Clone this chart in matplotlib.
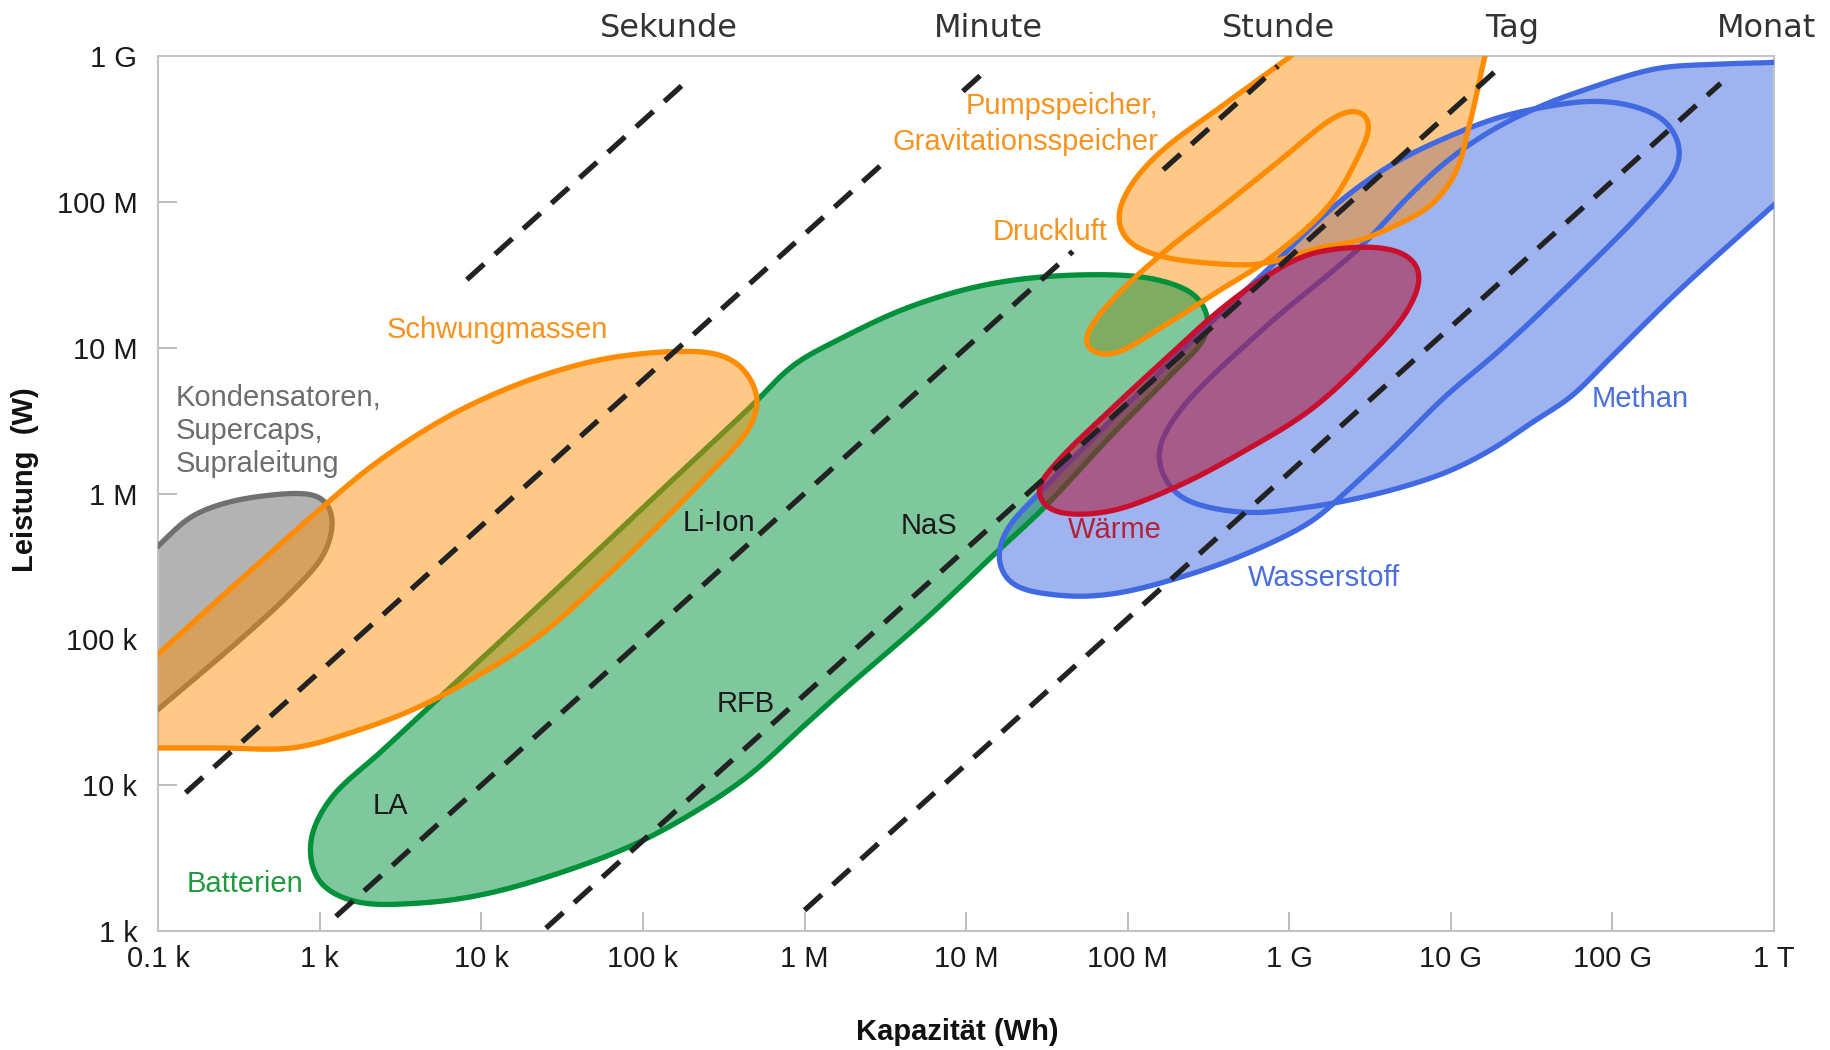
import numpy as np
import matplotlib
matplotlib.use("Agg")
import matplotlib.pyplot as plt
from matplotlib.path import Path
from matplotlib.patches import PathPatch

plt.rcParams["font.family"] = ["Liberation Sans", "DejaVu Sans"]

# ---------------------------------------------------------------------------
# Technology regions: outlines as log10(capacity / Wh) and log10(power / W)
# ---------------------------------------------------------------------------
caps_logE = [1.55, 1.80, 2.00, 2.20, 2.43, 2.70, 2.92, 3.02, 3.08, 3.03, 2.84, 2.53,
             2.00, 1.80, 1.55]
caps_logP = [5.34, 5.44, 5.64, 5.84, 5.94, 5.99, 6.00, 5.97, 5.84, 5.59, 5.34, 5.02,
             4.52, 4.33, 4.10]

flywheel_logE = [1.55, 1.80, 2.00, 2.50, 3.03, 3.30, 3.60, 3.90, 4.30, 4.70, 5.00, 5.25,
                 5.45, 5.60, 5.71, 5.66, 5.37, 4.80, 4.33, 3.85, 3.54, 3.22, 2.84, 2.40,
                 2.10, 1.80, 1.55]
flywheel_logP = [4.45, 4.70, 4.90, 5.40, 5.92, 6.17, 6.40, 6.59, 6.78, 6.91, 6.96, 6.975,
                 6.96, 6.88, 6.66, 6.45, 6.09, 5.46, 5.00, 4.67, 4.50, 4.37, 4.255, 4.255,
                 4.255, 4.255, 4.255]

battery_logE = [2.94, 3.00, 3.22, 3.60, 4.01, 4.49, 4.96, 5.37, 5.66, 5.97, 6.23, 6.77,
                7.20, 7.48, 7.90, 8.30, 8.47, 8.50, 8.42, 8.17, 7.73, 7.16, 6.65, 6.22,
                5.93, 5.69, 5.18, 4.50, 3.73, 3.38, 3.06]
battery_logP = [3.60, 3.33, 3.20, 3.19, 3.25, 3.40, 3.60, 3.85, 4.07, 4.38, 4.64, 5.16,
                5.61, 5.90, 6.40, 6.85, 7.05, 7.20, 7.36, 7.47, 7.50, 7.44, 7.28, 7.06,
                6.88, 6.62, 6.09, 5.38, 4.59, 4.23, 3.90]

pumped_logE = [9.01, 8.60, 8.19, 8.00, 7.94, 8.00, 8.19, 8.50, 8.80, 9.00, 9.20, 9.42,
               9.68, 9.86, 9.99, 10.06, 10.10, 10.15, 10.21, 10.31, 9.62]
pumped_logP = [9.00, 8.67, 8.33, 8.08, 7.88, 7.73, 7.63, 7.58, 7.57, 7.62, 7.69, 7.73,
               7.85, 7.96, 8.12, 8.28, 8.46, 8.69, 9.00, 9.50, 9.50]

caes_logE = [7.73, 7.80, 7.90, 8.24, 8.55, 8.89, 9.25, 9.43, 9.50, 9.47, 9.38, 9.25,
             8.96, 8.60, 8.24, 7.95, 7.78]
caes_logP = [7.02, 6.96, 6.95, 7.16, 7.38, 7.62, 7.98, 8.32, 8.52, 8.61, 8.63, 8.56,
             8.30, 7.98, 7.67, 7.38, 7.16]

heat_logE = [7.44, 7.50, 7.62, 7.90, 8.31, 8.72, 9.14, 9.50, 9.70, 9.80, 9.80, 9.72,
             9.60, 9.44, 9.12, 8.83, 8.55, 8.31, 7.90, 7.55]
heat_logP = [6.02, 5.90, 5.86, 5.88, 6.05, 6.29, 6.58, 6.95, 7.20, 7.42, 7.55, 7.64,
             7.68, 7.69, 7.64, 7.47, 7.24, 7.00, 6.58, 6.20]

hydrogen_logE = [7.20, 7.28, 7.59, 7.90, 8.31, 8.72, 9.14, 9.34, 9.65, 9.96, 10.30, 10.74,
                 11.19, 11.39, 11.42, 11.38, 11.30, 11.08, 10.86, 10.63, 10.30, 9.97,
                 9.64, 9.31, 8.89, 8.40, 7.85, 7.45, 7.25]
hydrogen_logP = [5.55, 5.38, 5.30, 5.31, 5.42, 5.58, 5.81, 6.00, 6.32, 6.66, 6.98, 7.44,
                 7.94, 8.21, 8.35, 8.48, 8.58, 8.67, 8.69, 8.66, 8.58, 8.44,
                 8.26, 8.00, 7.56, 7.05, 6.45, 6.00, 5.75]

methane_logE = [8.19, 8.24, 8.35, 8.72, 9.14, 9.55, 9.96, 10.25, 10.52, 10.74, 10.97, 11.41,
                12.00, 12.35, 12.35, 12.00, 11.63, 11.30, 11.08, 10.86, 10.63, 10.30,
                10.00, 9.75, 9.44, 8.83, 8.31]
methane_logP = [6.28, 6.08, 5.96, 5.87, 5.91, 6.00, 6.14, 6.30, 6.50, 6.66, 6.91, 7.39,
                7.98, 8.33, 8.96, 8.955, 8.943, 8.92, 8.86, 8.78, 8.69, 8.52,
                8.30, 8.05, 7.69, 7.12, 6.55]

# ---------------------------------------------------------------------------
# Discharge-time reference lines (P = E / t), drawn over log10(E) ranges
# ---------------------------------------------------------------------------
time_names = ["Sekunde", "Minute", "Stunde", "Tag", "Monat"]
time_hours = [1 / 3600, 1 / 60, 1, 24, 720]
time_ranges_logE = [
    [(3.91, 5.26)],
    [(2.17, 6.48), (6.98, 7.14)],
    [(3.10, 7.66), (8.22, 8.93)],
    [(4.40, 10.28)],
    [(6.00, 11.67)],
]

x_ticks_logE = list(range(2, 13))
x_tick_labels = ["0.1 k", "1 k", "10 k", "100 k", "1 M", "10 M", "100 M",
                 "1 G", "10 G", "100 G", "1 T"]
y_ticks_logP = list(range(3, 10))
y_tick_labels = ["1 k", "10 k", "100 k", "1 M", "10 M", "100 M", "1 G"]


def catmull_rom_closed(P, n=30):
    """Centripetal Catmull-Rom spline through closed outline points."""
    N = len(P)
    out = []
    for i in range(N):
        p0, p1, p2, p3 = P[(i - 1) % N], P[i], P[(i + 1) % N], P[(i + 2) % N]
        t0 = 0.0
        t1 = t0 + np.linalg.norm(p1 - p0) ** 0.5
        t2 = t1 + np.linalg.norm(p2 - p1) ** 0.5
        t3 = t2 + np.linalg.norm(p3 - p2) ** 0.5
        t = np.linspace(t1, t2, n, endpoint=False)[:, None]
        a1 = (t1 - t) / (t1 - t0) * p0 + (t - t0) / (t1 - t0) * p1
        a2 = (t2 - t) / (t2 - t1) * p1 + (t - t1) / (t2 - t1) * p2
        a3 = (t3 - t) / (t3 - t2) * p2 + (t - t2) / (t3 - t2) * p3
        b1 = (t2 - t) / (t2 - t0) * a1 + (t - t0) / (t2 - t0) * a2
        b2 = (t3 - t) / (t3 - t1) * a2 + (t - t1) / (t3 - t1) * a3
        out.append((t2 - t) / (t2 - t1) * b1 + (t - t1) / (t2 - t1) * b2)
    return np.vstack(out)


def smooth_closed(xs, ys, sigma=0.06, step=0.004):
    """Spline the outline, resample by arc length and low-pass it (periodic)."""
    P = np.column_stack([xs, ys]).astype(float)
    C = catmull_rom_closed(P)
    Cc = np.vstack([C, C[:1]])
    seg = np.sqrt((np.diff(Cc, axis=0) ** 2).sum(1))
    s = np.concatenate([[0.0], np.cumsum(seg)])
    L = s[-1]
    m = int(L / step)
    su = np.linspace(0.0, L, m, endpoint=False)
    xu = np.interp(su, s, Cc[:, 0])
    yu = np.interp(su, s, Cc[:, 1])
    ds = L / m
    k = int(4 * sigma / ds)
    offs = np.arange(-k, k + 1)
    w = np.exp(-0.5 * (offs * ds / sigma) ** 2)
    w /= w.sum()
    xs_ = np.convolve(np.concatenate([xu[-k:], xu, xu[:k]]), w, mode="valid")
    ys_ = np.convolve(np.concatenate([yu[-k:], yu, yu[:k]]), w, mode="valid")
    S = np.column_stack([xs_, ys_])
    # uniform (counter-clockwise) orientation so unions fill without double alpha
    area = 0.5 * np.sum(S[:, 0] * np.roll(S[:, 1], -1) - np.roll(S[:, 0], -1) * S[:, 1])
    if area < 0:
        S = S[::-1]
    return S


def region_path(xs, ys):
    C = smooth_closed(xs, ys)
    V = 10.0 ** np.vstack([C, C[:1]])
    codes = [Path.MOVETO] + [Path.LINETO] * (len(V) - 2) + [Path.CLOSEPOLY]
    return Path(V, codes)


fig = plt.figure(figsize=(18.3, 10.5), dpi=100)
ax = fig.add_axes([0.08645, 0.11333, 0.88295, 0.83333])
ax.set_xscale("log")
ax.set_yscale("log")
ax.set_xlim(1e2, 1e12)
ax.set_ylim(1e3, 1e9)

caps = region_path(caps_logE, caps_logP)
fly = region_path(flywheel_logE, flywheel_logP)
bat = region_path(battery_logE, battery_logP)
phs = region_path(pumped_logE, pumped_logP)
caes = region_path(caes_logE, caes_logP)
heat = region_path(heat_logE, heat_logP)
h2 = region_path(hydrogen_logE, hydrogen_logP)
ch4 = region_path(methane_logE, methane_logP)

ORANGE = "#FF8C00"
GREEN = "#00913A"
BLUE = "#4169E1"
RED = "#C8102E"
GREY_LINE = "#707070"
LW = 3.8


def fill(path, color, alpha, z):
    ax.add_patch(PathPatch(path, facecolor=color, edgecolor="none", alpha=alpha, zorder=z))


def edge(path, color, z, lw=LW):
    ax.add_patch(PathPatch(path, facecolor="none", edgecolor=color, lw=lw, zorder=z,
                           joinstyle="round"))


# fills and outlines, layered back to front
fill(Path.make_compound_path(h2, ch4), BLUE, 0.5, 1.0)
fill(Path.make_compound_path(phs, caes), ORANGE, 0.47, 1.1)
fill(bat, GREEN, 0.5, 2.0)
fill(caps, "#B3B3B3", 1.0, 2.5)
edge(caps, GREY_LINE, 2.6)
edge(bat, GREEN, 3.0)
edge(h2, BLUE, 3.2)
edge(ch4, BLUE, 3.2)
fill(fly, ORANGE, 0.47, 3.5)
fill(heat, "#AF1433", 0.55, 4.0)
edge(fly, ORANGE, 4.5)
edge(phs, ORANGE, 4.5)
edge(caes, ORANGE, 4.5)
edge(heat, RED, 5.0)

# discharge-time lines
for hours, ranges in zip(time_hours, time_ranges_logE):
    for e0, e1 in ranges:
        e = np.array([e0, e1])
        ax.plot(10.0 ** e, 10.0 ** e / hours, color="#222222", lw=3.8,
                dashes=(4.4, 2.8), zorder=6, dash_capstyle="butt")

# axes styling
ax.set_xticks(10.0 ** np.array(x_ticks_logE, dtype=float))
ax.set_xticklabels(x_tick_labels)
ax.set_yticks(10.0 ** np.array(y_ticks_logP, dtype=float))
ax.set_yticklabels(y_tick_labels)
ax.minorticks_off()
ax.tick_params(direction="in", length=14, width=1.3, color="#b8b8b8",
               labelsize=21, labelcolor="#1a1a1a")
ax.tick_params(axis="x", pad=10)
ax.tick_params(axis="y", pad=15)
for sp in ax.spines.values():
    sp.set_color("#c4c4c4")
    sp.set_linewidth(1.5)

fig.text(0.523, 0.0176, "Kapazität (Wh)", ha="center", va="center",
         fontsize=21, fontweight="bold", color="#111111")
fig.text(0.0137, 0.543, "Leistung  (W)", ha="center", va="center", rotation=90,
         fontsize=21, fontweight="bold", color="#111111")

# time labels above the frame
top_label_x = [669, 988, 1278, 1512, 1767]
for name, xp in zip(time_names, top_label_x):
    fig.text(xp / 1830, 1 - 37 / 1050, name, ha="center", va="baseline",
             fontsize=23, color="#333333", family=["DejaVu Sans"])

# region labels
C_OR = "#F7931E"
C_GN = "#1F9A3F"
C_BL = "#4A6FDC"
C_RD = "#B5203A"
C_GR = "#6D6D6D"
C_BK = "#1a1a1a"
labels = [
    ("Schwungmassen", 4.10, 7.12, C_OR, "center"),
    ("Kondensatoren,\nSupercaps,\nSupraleitung", 2.11, 6.43, C_GR, "left"),
    ("Li-Ion", 5.47, 5.80, C_BK, "center"),
    ("RFB", 5.635, 4.555, C_BK, "center"),
    ("LA", 3.435, 3.856, C_BK, "center"),
    ("Batterien", 2.54, 3.32, C_GN, "center"),
    ("NaS", 6.77, 5.78, C_BK, "center"),
    ("Wärme", 7.92, 5.75, C_RD, "center"),
    ("Wasserstoff", 9.215, 5.42, C_BL, "center"),
    ("Methan", 11.17, 6.647, C_BL, "center"),
    ("Pumpspeicher,", 8.19, 8.656, C_OR, "right"),
    ("Gravitationsspeicher", 8.19, 8.41, C_OR, "right"),
    ("Druckluft", 7.518, 7.79, C_OR, "center"),
]
for txt, lx, ly, col, ha in labels:
    ax.text(10.0 ** lx, 10.0 ** ly, txt, ha=ha, va="center", fontsize=21,
            color=col, zorder=7, linespacing=1.23)

fig.savefig("out.png", dpi=100)
